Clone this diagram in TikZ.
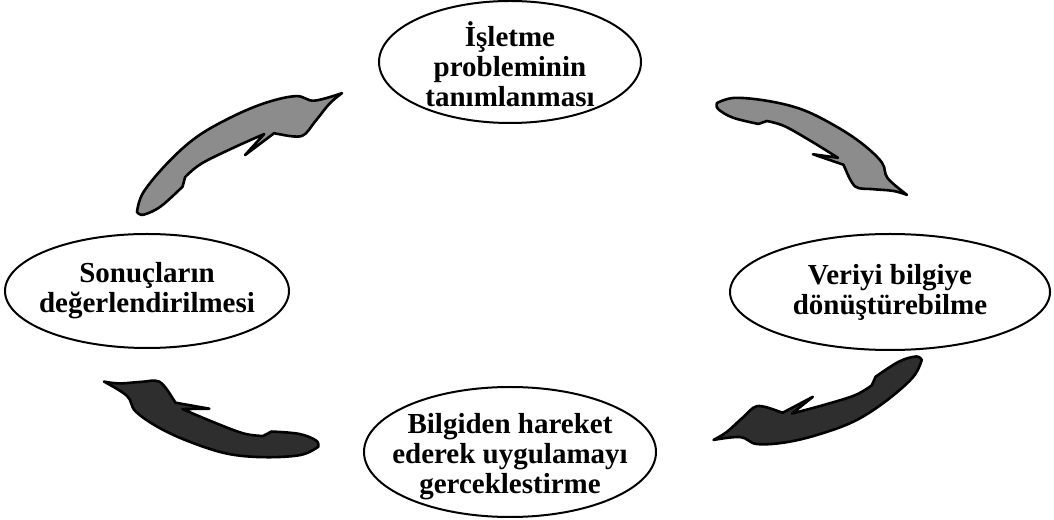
\documentclass[tikz,border=0pt]{standalone}
\usepackage{fontspec}
\setmainfont{Liberation Serif}
\usetikzlibrary{shapes.geometric}
\newcommand\cyclearrowpath{%
 plot[smooth,tension=0.6] coordinates {(0,0) (6.5,4.5) (22,8.9) (38.3,11.4) (55.9,11.2) (70.8,9.6) (82.7,6.6) (88.3,2.4) (100,0)}
 -- plot[smooth,tension=0.6] coordinates {(100,0) (93.3,-0.9) (84.1,-3.6) (76.4,-5.5) (69.3,-1.9)}
 -- (66.7,-0.2) -- (51.5,-1.6) -- (62.9,1.2)
 -- plot[smooth,tension=0.6] coordinates {(62.9,1.2) (48,2.4) (33.6,3.1) (25,2)}
 -- plot[smooth,tension=0.6] coordinates {(22,-0.3) (9.8,-2.3) (1.7,-1.8) (0,0)} -- cycle}
\begin{document}
\begin{tikzpicture}[x=1pt,y=1pt,
  ell/.style={ellipse, draw, line width=2pt, inner sep=0pt},
  lbl/.style={align=center, inner sep=0pt, font=\bfseries\fontsize{29}{30}\selectfont},
  lightarrow/.style={draw=black, line width=2.6pt, line join=round, fill=black!45},
  darkarrow/.style={draw=black, line width=2.6pt, line join=round, fill=black!82}]
\useasboundingbox (0,0) rectangle (1054,519);
\node[ell, minimum width=262pt, minimum height=122pt] (top) at (510,457) {};
\node[ell, minimum width=284pt, minimum height=114pt] (left) at (147,228) {};
\node[ell, minimum width=320pt, minimum height=116pt] (right) at (890,227) {};
\node[ell, minimum width=292pt, minimum height=130pt] (bottom) at (510,67) {};
\node[lbl, yshift=-2pt] (topt) at (top) {İşletme\\probleminin\\tanımlanması};
\node[lbl] (leftt) at (left) {Sonuçların\\değerlendirilmesi};
\node[lbl] (rightt) at (right) {Veriyi bilgiye\\dönüştürebilme};
\node[lbl, yshift=-5pt] (bottomt) at (bottom) {Bilgiden hareket\\ederek uygulamayı\\gerceklestirme};
\coordinate (a1) at (137,307);
\coordinate (a2) at (717,416);
\coordinate (a3) at (921.7,159);
\coordinate (a4) at (318.3,72.3);
\begin{scope}[shift={(a1)}, rotate=30.1, scale=2.37, yscale=1.3]
  \path[lightarrow] \cyclearrowpath;
\end{scope}
\begin{scope}[shift={(a2)}, rotate=-25.8, scale=2.11, yscale=1.3]
  \path[lightarrow] \cyclearrowpath;
\end{scope}
\begin{scope}[shift={(a3)}, rotate=201.0, scale=2.23, yscale=1.3]
  \path[darkarrow] \cyclearrowpath;
\end{scope}
\begin{scope}[shift={(a4)}, rotate=163.1, scale=2.24, yscale=1.3]
  \path[darkarrow] \cyclearrowpath;
\end{scope}
\end{tikzpicture}
\end{document}
